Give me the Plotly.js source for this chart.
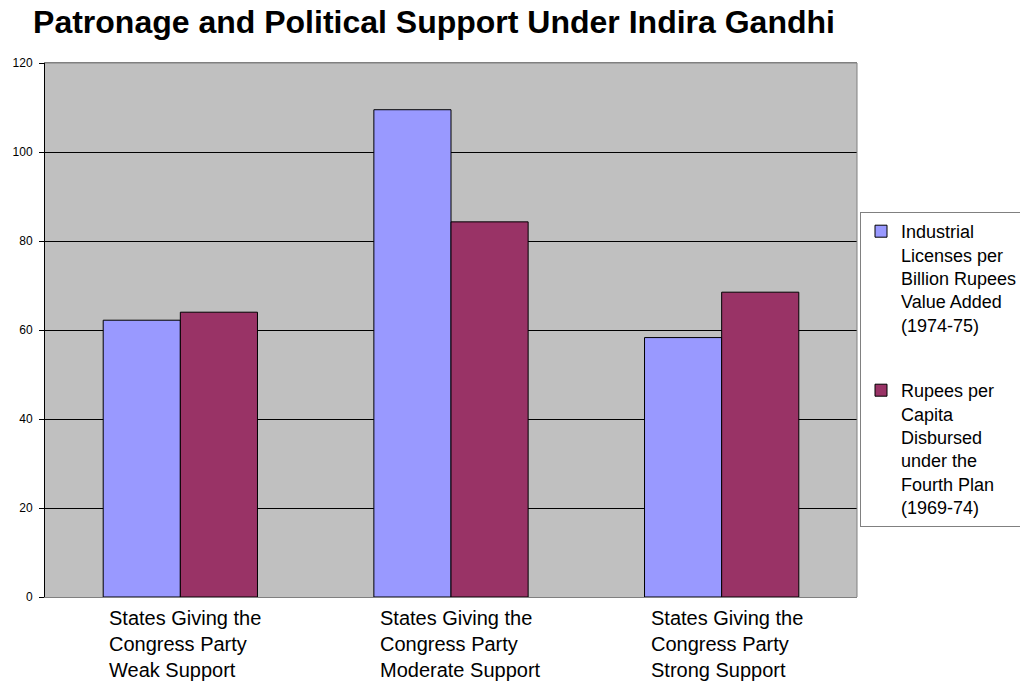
<!DOCTYPE html>
<html>
<head>
<meta charset="utf-8">
<script src="https://cdn.plot.ly/plotly-3.0.1.min.js"></script>
<style>html,body{margin:0;padding:0;background:#fff;}#chart{width:1020px;height:683px;}</style>
</head>
<body>
<div id="chart"></div>
<script>
var categories = ["Weak", "Moderate", "Strong"];
var categoryLabels = [
  "States Giving the<br>Congress Party<br>Weak Support",
  "States Giving the<br>Congress Party<br>Moderate Support",
  "States Giving the<br>Congress Party<br>Strong Support"
];
var licensesName = "Industrial<br>Licenses per<br>Billion Rupees<br>Value Added<br>(1974-75)";
var licensesValues = [62.2, 109.5, 58.3];
var rupeesName = "Rupees per<br>Capita<br>Disbursed<br>under the<br>Fourth Plan<br>(1969-74)";
var rupeesValues = [64.0, 84.3, 68.5];
var yTicks = [0, 20, 40, 60, 80, 100, 120];

var FONT = "Arial, 'Liberation Sans', sans-serif";

var traces = [
  {type: "bar", x: categories, y: licensesValues, name: licensesName, legendgroup: "a",
   marker: {color: "#9999FF", line: {color: "#000000", width: 1}}},
  {type: "bar", x: categories, y: rupeesValues, name: rupeesName, legendgroup: "b",
   marker: {color: "#993366", line: {color: "#000000", width: 1}}}
];

var annotations = categories.map(function (c, i) {
  return {xref: "x", yref: "paper", x: c, y: 0, xanchor: "left", yanchor: "top",
          xshift: -73, yshift: -8, align: "left", showarrow: false,
          text: categoryLabels[i], font: {family: FONT, size: 20, color: "#000000"}};
});

var layout = {
  width: 1020, height: 683,
  margin: {l: 45, r: 163, t: 63, b: 86, pad: 0, autoexpand: false},
  paper_bgcolor: "#ffffff",
  plot_bgcolor: "#C0C0C0",
  font: {family: FONT, color: "#000000"},
  title: {text: "<b>Patronage and Political Support Under Indira Gandhi</b>",
          font: {family: FONT, size: 32, color: "#000000"},
          x: 434/1020, xref: "container", xanchor: "center",
          y: 1 - 22/683, yref: "container", yanchor: "middle"},
  barmode: "group",
  bargap: 0.43,
  bargroupgap: 0,
  xaxis: {type: "category", showline: true, linecolor: "#808080", linewidth: 1, mirror: true,
          ticks: "", showticklabels: false, showgrid: false, fixedrange: true},
  yaxis: {range: [0, 120], tickvals: yTicks, ticktext: yTicks.map(String),
          showline: true, linecolor: "#000000", linewidth: 1,
          showgrid: true, gridcolor: "#000000", gridwidth: 1, zeroline: false,
          ticks: "outside", ticklen: 5, tickcolor: "#000000", ticklabelstandoff: 4,
          tickfont: {family: FONT, size: 12, color: "#000000"}, fixedrange: true},
  shapes: [
    {type: "line", xref: "paper", yref: "paper", x0: 1, x1: 1, y0: 0, y1: 1,
     line: {color: "#808080", width: 1}},
    {type: "line", xref: "paper", yref: "paper", x0: 0, x1: 1, y0: 1, y1: 1,
     line: {color: "#808080", width: 1}}
  ],
  annotations: annotations,
  showlegend: true,
  legend: {xref: "container", yref: "container", x: 860/1020, xanchor: "left",
           y: 1 - 212/683, yanchor: "top",
           bgcolor: "#ffffff", bordercolor: "#808080", borderwidth: 1,
           font: {family: FONT, size: 18, color: "#000000"},
           valign: "top", traceorder: "grouped", tracegroupgap: 39, itemwidth: 30}
};

Plotly.newPlot("chart", traces, layout, {displayModeBar: false, staticPlot: true});
</script>
</body>
</html>
